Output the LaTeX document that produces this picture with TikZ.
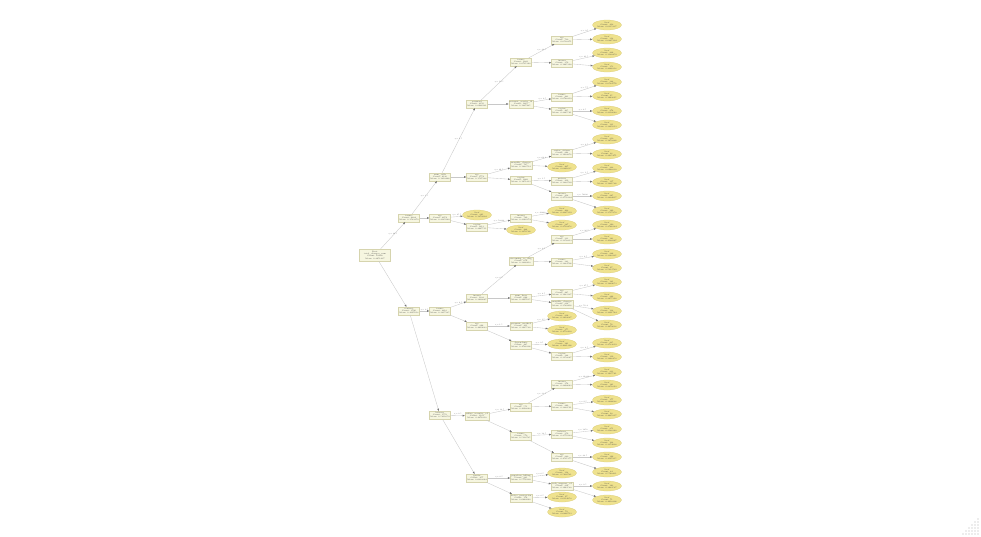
\documentclass[tikz,border=0pt]{standalone}
\usepackage{xcolor}
\usepackage{tikz}
\usetikzlibrary{arrows.meta,shapes.geometric}
\definecolor{splitFill}{HTML}{F6F6E0}
\definecolor{splitLine}{HTML}{D6D4AE}
\definecolor{leafFill}{HTML}{EFE28E}
\definecolor{leafLine}{HTML}{D9CC7A}
\definecolor{edgeGray}{HTML}{C8C8C8}
\colorlet{nodeText}{black!75}

\begin{document}
\begin{tikzpicture}[x=1pt,y=-1pt,
    splitbox/.style={rectangle, draw=splitLine, fill=splitFill, line width=0.25pt,
      align=center, font=\fontsize{1.9}{2.3}\selectfont, text=nodeText,
      minimum width=18pt, minimum height=8pt, inner xsep=1pt, inner ysep=0.5pt},
    rootbox/.style={splitbox, minimum width=31pt, minimum height=12pt},
    leafnode/.style={ellipse, draw=leafLine, fill=leafFill, line width=0.25pt,
      align=center, font=\fontsize{1.9}{2.3}\selectfont, text=nodeText,
      minimum width=29pt, minimum height=10pt, inner sep=0pt},
    link/.style={draw=edgeGray, line width=0.35pt,
      -{Triangle[length=2.2pt,width=1.7pt,color=black!55]}},
    cond/.style={font=\fontsize{1.8}{2}\selectfont, text=black!65, above, inner sep=0.5pt}]
  \useasboundingbox (0,0) rectangle (981,536);

  % root
  \node[rootbox] (R) at (375,255) {Root\\total\_charges\_sum\\Count: 10000\\Mean: 0.2651437};

  % first split
  \node[splitbox] (A) at (409,218) {tenure\\Count: 6204\\Mean: 0.1583272};
  \node[splitbox] (B) at (409,311) {contract\\Count: 3796\\Mean: 0.4397018};

  % second level
  \node[splitbox] (A1) at (440,177) {num\_calls\\Count: 4130\\Mean: 0.1210446};
  \node[splitbox] (A2) at (440,218) {age\\Count: 2074\\Mean: 0.2325940};
  \node[splitbox] (B1) at (440,311) {tenure\\Count: 2218\\Mean: 0.3817385};
  \node[splitbox] (B2) at (440,415) {balance\\Count: 1578\\Mean: 0.5211659};

  % third level
  \node[splitbox] (C1) at (477,104) {payment\\Count: 2356\\Mean: 0.0986121};
  \node[splitbox] (C2) at (477,177) {age\\Count: 1774\\Mean: 0.1507328};
  \node[leafnode] (L0) at (477,215) {Leaf\\Count: 861\\Mean: 0.1872904};
  \node[splitbox] (C3) at (477,227) {region\\Count: 1213\\Mean: 0.2647511};
  \node[splitbox] (C4) at (477,298) {income\\Count: 1322\\Mean: 0.3409867};
  \node[splitbox] (C5) at (477,326) {age\\Count: 896\\Mean: 0.4419023};
  \node[splitbox] (C6) at (477,416) {online\_security\_cd\\Count: 1121\\Mean: 0.4876310};
  \node[splitbox] (C7) at (477,478) {gender\\Count: 457\\Mean: 0.6032844};

  % fourth level
  \node[splitbox] (D1) at (521,62) {tenure\\Count: 1089\\Mean: 0.0705362};
  \node[splitbox] (D2) at (521,104) {internet\_service\_id\\Count: 1267\\Mean: 0.1227485};
  \node[splitbox] (D3) at (521,165) {monthly\_charges\\Count: 705\\Mean: 0.1288714};
  \node[splitbox] (D4) at (521,180) {region\\Count: 1069\\Mean: 0.1651233};
  \node[splitbox] (D5) at (521,218) {income\\Count: 729\\Mean: 0.2360174};
  \node[leafnode] (L1) at (521,230) {Leaf\\Count: 484\\Mean: 0.3078526};
  \node[splitbox] (D6) at (521,261) {streaming\_tv\_flag\\Count: 656\\Mean: 0.3826412};
  \node[splitbox] (D7) at (521,298) {num\_lines\\Count: 666\\Mean: 0.2997035};
  \node[splitbox] (D8) at (521,326) {payment\_method\\Count: 411\\Mean: 0.3985520};
  \node[splitbox] (D9) at (521,345) {dependents\\Count: 485\\Mean: 0.4786306};
  \node[splitbox] (D10) at (521,407) {age\\Count: 551\\Mean: 0.4390842};
  \node[splitbox] (D11) at (521,436) {tenure\\Count: 570\\Mean: 0.5338725};
  \node[splitbox] (D12) at (521,478) {paperless\_billing\\Count: 281\\Mean: 0.5776109};
  \node[splitbox] (D13) at (521,498) {device\_protection\\Count: 176\\Mean: 0.6440962};

  % fifth level
  \node[splitbox] (E1) at (562,40) {age\\Count: 730\\Mean: 0.0538271};
  \node[splitbox] (E2) at (562,63) {income\\Count: 359\\Mean: 0.1465390};
  \node[splitbox] (E3) at (562,97) {tenure\\Count: 483\\Mean: 0.0748219};
  \node[splitbox] (E4) at (562,111) {region\\Count: 405\\Mean: 0.2845561};
  \node[splitbox] (E5) at (562,153) {senior\_citizen\\Count: 298\\Mean: 0.1904278};
  \node[leafnode] (L2) at (562,167) {Leaf\\Count: 407\\Mean: 0.0861635};
  \node[splitbox] (E6) at (562,181) {partner\\Count: 419\\Mean: 0.1222709};
  \node[splitbox] (E7) at (562,196) {income\\Count: 414\\Mean: 0.2751904};
  \node[leafnode] (L3) at (562,211) {Leaf\\Count: 402\\Mean: 0.2087319};
  \node[leafnode] (L4) at (562,225) {Leaf\\Count: 327\\Mean: 0.2710458};
  \node[splitbox] (E8) at (562,239) {age\\Count: 333\\Mean: 0.3356213};
  \node[splitbox] (E9) at (562,262) {tenure\\Count: 323\\Mean: 0.3884706};
  \node[splitbox] (E10) at (562,293) {age\\Count: 445\\Mean: 0.1983127};
  \node[splitbox] (E11) at (562,304) {monthly\_charges\\Count: 214\\Mean: 0.3589416};
  \node[leafnode] (L5) at (562,316) {Leaf\\Count: 236\\Mean: 0.3412087};
  \node[leafnode] (L6) at (562,330) {Leaf\\Count: 175\\Mean: 0.4758430};
  \node[leafnode] (L7) at (562,344) {Leaf\\Count: 161\\Mean: 0.4021396};
  \node[splitbox] (E12) at (562,356) {region\\Count: 324\\Mean: 0.3158047};
  \node[splitbox] (E13) at (562,384) {income\\Count: 374\\Mean: 0.2290663};
  \node[splitbox] (E14) at (562,406) {tenure\\Count: 269\\Mean: 0.3822591};
  \node[splitbox] (E15) at (562,434) {balance\\Count: 359\\Mean: 0.2570124};
  \node[splitbox] (E16) at (562,457) {age\\Count: 280\\Mean: 0.4505377};
  \node[leafnode] (L8) at (562,473) {Leaf\\Count: 118\\Mean: 0.5402781};
  \node[splitbox] (E17) at (562,486) {tech\_support\_cd\\Count: 234\\Mean: 0.3963580};
  \node[leafnode] (L9) at (562,497) {Leaf\\Count: 97\\Mean: 0.6114952};
  \node[leafnode] (L10) at (562,512) {Leaf\\Count: 79\\Mean: 0.6846713};

  % edges of the upper levels
  \draw[link] (R) -- node[cond] {<= 24.5} (A);
  \draw[link] (R) -- (B);
  \draw[link] (A) -- node[cond] {<= 3.5} (A1);
  \draw[link] (A) -- (A2);
  \draw[link] (B) -- node[cond] {<= 0.5} (B1);
  \draw[link] (B) -- (B2);
  \draw[link] (A1) -- node[cond] {<= 1.5} (C1);
  \draw[link] (A1) -- (C2);
  \draw[link] (A2) -- node[cond] {<= 45.5} (L0);
  \draw[link] (A2) -- (C3);
  \draw[link] (B1) -- node[cond] {<= 6.5} (C4);
  \draw[link] (B1) -- (C5);
  \draw[link] (B2) -- node[cond] {<= 0.5} (C6);
  \draw[link] (B2) -- (C7);
  \draw[link] (C1) -- node[cond] {<= 12.5} (D1);
  \draw[link] (C1) -- (D2);
  \draw[link] (C2) -- node[cond] {<= 29.5} (D3);
  \draw[link] (C2) -- (D4);
  \draw[link] (C3) -- node[cond] {<= 58000} (D5);
  \draw[link] (C3) -- (L1);
  \draw[link] (C4) -- node[cond] {<= 0.5} (D6);
  \draw[link] (C4) -- (D7);
  \draw[link] (C5) -- node[cond] {<= 1.5} (D8);
  \draw[link] (C5) -- (D9);
  \draw[link] (C6) -- node[cond] {<= 38.5} (D10);
  \draw[link] (C6) -- (D11);
  \draw[link] (C7) -- node[cond] {<= 0.5} (D12);
  \draw[link] (C7) -- (D13);
  \draw[link] (D1) -- node[cond] {<= 30.5} (E1);
  \draw[link] (D1) -- (E2);
  \draw[link] (D2) -- node[cond] {<= 0.5} (E3);
  \draw[link] (D2) -- (E4);
  \draw[link] (D3) -- node[cond] {<= 64.2} (E5);
  \draw[link] (D3) -- (L2);
  \draw[link] (D4) -- node[cond] {<= 1.5} (E6);
  \draw[link] (D4) -- (E7);
  \draw[link] (D5) -- node[cond] {<= 41200} (L3);
  \draw[link] (D5) -- (L4);
  \draw[link] (D6) -- node[cond] {<= 0.5} (E8);
  \draw[link] (D6) -- (E9);
  \draw[link] (D7) -- node[cond] {<= 2.5} (E10);
  \draw[link] (D7) -- (E11);
  \draw[link] (D8) -- node[cond] {<= 1.5} (L5);
  \draw[link] (D8) -- (L6);
  \draw[link] (D9) -- node[cond] {<= 0.5} (L7);
  \draw[link] (D9) -- (E12);
  \draw[link] (D10) -- node[cond] {<= 33.5} (E13);
  \draw[link] (D10) -- (E14);
  \draw[link] (D11) -- node[cond] {<= 18.5} (E15);
  \draw[link] (D11) -- (E16);
  \draw[link] (D12) -- node[cond] {<= 0.5} (L8);
  \draw[link] (D12) -- (E17);
  \draw[link] (D13) -- node[cond] {<= 0.5} (L9);
  \draw[link] (D13) -- (L10);

  % last column of leaves: y / parent / count / mean / condition
  \foreach \y/\p/\n/\m/\c [count=\i] in {
      25/E1/412/0.0315237/{<= 2.5}, 39/E1/318/0.0867104/{},
      53/E2/206/0.1120459/{<= 41.5}, 67/E2/153/0.2046318/{},
      82/E3/388/0.0524776/{<= 7.5}, 96/E3/95/0.1663095/{},
      111/E4/274/0.2318642/{<= 0.5}, 125/E4/131/0.3895013/{},
      139/E5/210/0.1472286/{<= 0.5}, 154/E5/88/0.2935471/{},
      168/E6/302/0.0968830/{<= 1.5}, 182/E6/117/0.1881526/{},
      196/E7/245/0.2204917/{<= 52300}, 211/E7/169/0.3517250/{},
      225/E8/190/0.2766384/{<= 36.5}, 239/E8/143/0.4128967/{},
      254/E9/226/0.3342105/{<= 4.5}, 268/E9/97/0.5013789/{},
      282/E10/181/0.1289653/{<= 27.5}, 297/E10/264/0.2457390/{},
      311/E11/138/0.3091744/{<= 70.4}, 325/E11/76/0.4472638/{},
      343/E12/205/0.2733019/{<= 2.5}, 357/E12/119/0.3868452/{},
      372/E13/233/0.1937561/{<= 61800}, 385/E13/141/0.2851093/{},
      400/E14/177/0.3406628/{<= 9.5}, 414/E14/92/0.4625817/{},
      429/E15/251/0.2188340/{<= 1250}, 443/E15/108/0.3374902/{},
      457/E16/196/0.4197215/{<= 48.5}, 472/E16/84/0.5562431/{},
      486/E17/163/0.3623587/{<= 0.5}, 500/E17/71/0.4918206/{}} {
    \node[leafnode] (F\i) at (607,\y) {Leaf\\Count: \n\\Mean: \m};
    \draw[link] (\p) -- node[cond] {\c} (F\i);
  }

  % grip in the corner
  \foreach \i in {0,...,5}
    \foreach \j in {0,...,\i}
      \fill[black!30] ({978-3*\j},{534-3*(\i-\j)}) circle (0.6);
\end{tikzpicture}
\end{document}
